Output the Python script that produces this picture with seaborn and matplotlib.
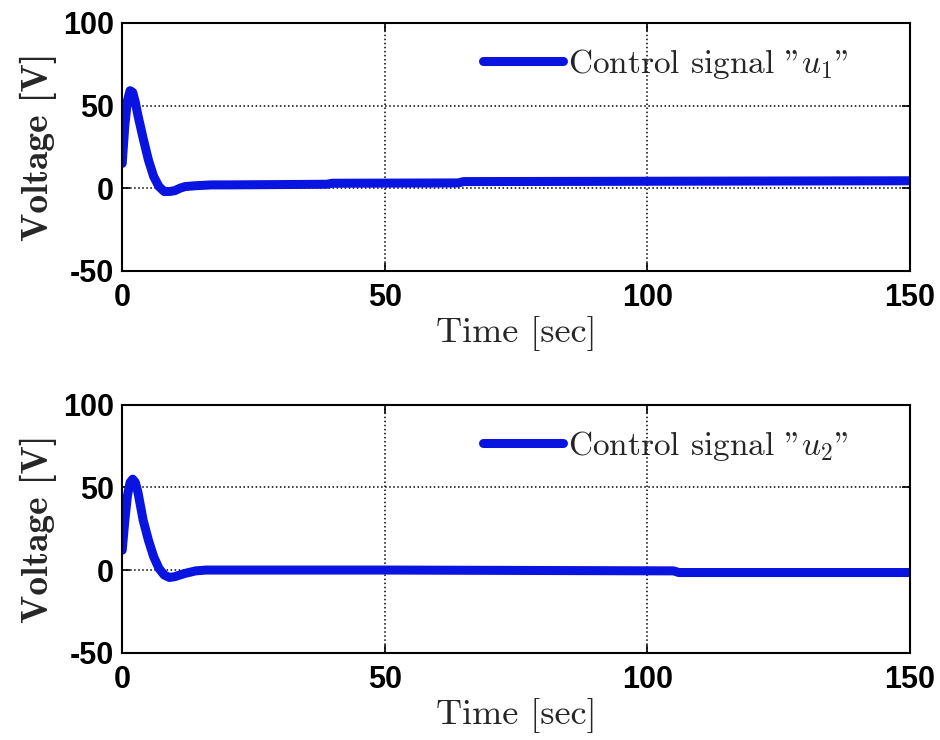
import numpy as np
import pandas as pd
import matplotlib
matplotlib.use("Agg")
import matplotlib.pyplot as plt
import seaborn as sns

# control signal u1
t1 = [0, 0.5, 1.0, 1.5, 2.0, 2.5, 3.0, 3.5, 4.0, 5.0, 6.0, 7.0, 8.0, 9.0, 10, 11, 12, 14, 17, 20, 30, 39, 40, 64, 65, 100, 150]
u1 = [15, 38, 53, 59, 58, 52, 44, 37, 30, 17, 7, 1, -2, -2, -1.5, 0, 1, 1.5, 2, 2, 2.2, 2.4, 3, 3.2, 4, 4.2, 4.5]

# control signal u2
t2 = [0, 0.5, 1.0, 1.5, 2.0, 2.5, 3.0, 4.0, 5.0, 6.0, 7.0, 8.0, 9.0, 10, 11, 12, 14, 16, 20, 50, 105, 106, 150]
u2 = [12, 30, 45, 53, 55, 53, 47, 30, 18, 8, 1, -3, -4.5, -4, -3, -2, -0.5, 0, 0, 0, -0.5, -1.5, -1.5]

labels = ['Control signal "$u_1$"', 'Control signal "$u_2$"']
xticks = [0, 50, 100, 150]
yticks = [-50, 0, 50, 100]

sns.set_style("ticks")
plt.rcParams['mathtext.fontset'] = 'cm'
plt.rcParams['axes.formatter.use_mathtext'] = False

fig = plt.figure(figsize=(9.4, 7.4), dpi=100)
ax1 = fig.add_axes([0.130, 0.634, 0.838, 0.335])
ax2 = fig.add_axes([0.130, 0.118, 0.838, 0.335])

tick_font = {'family': 'Liberation Sans', 'weight': 'bold', 'size': 22}
line_color = '#0a14e0'

for ax, t, u, lab in [(ax1, t1, u1, labels[0]), (ax2, t2, u2, labels[1])]:
    df = pd.DataFrame({'Time': t, 'Voltage': u})
    sns.lineplot(data=df, x='Time', y='Voltage', ax=ax, color=line_color,
                 linewidth=6.5, label=lab, estimator=None, sort=False)
    ax.set_xlim(0, 150)
    ax.set_ylim(-50, 100)
    ax.set_xticks(xticks)
    ax.set_yticks(yticks)
    ax.set_xticklabels([str(v) for v in xticks], fontdict=tick_font)
    ax.set_yticklabels([str(v) for v in yticks], fontdict=tick_font)
    ax.tick_params(direction='in', top=True, right=True, length=6, width=1.2, colors='black')
    ax.tick_params(axis='x', pad=9)
    ax.tick_params(axis='y', pad=6)
    ax.grid(True, linestyle=':', color='black', linewidth=1.1)
    for s in ax.spines.values():
        s.set_color('black')
        s.set_linewidth(1.5)
    ax.set_xlabel('Time [sec]', fontfamily='cmr10', fontsize=26, labelpad=2)
    ax.set_ylabel('Voltage [V]', fontfamily='cmb10', fontsize=27, labelpad=4)
    for lt in ax.get_xticklabels() + ax.get_yticklabels():
        lt.set_fontweight('heavy')
    ax.legend(loc='center left', bbox_to_anchor=(0.458, 0.835), frameon=False,
              borderpad=0, borderaxespad=0, handlelength=2.4, handletextpad=0.15,
              prop={'family': 'cmr10', 'size': 24})

fig.savefig('out.png', dpi=100)
